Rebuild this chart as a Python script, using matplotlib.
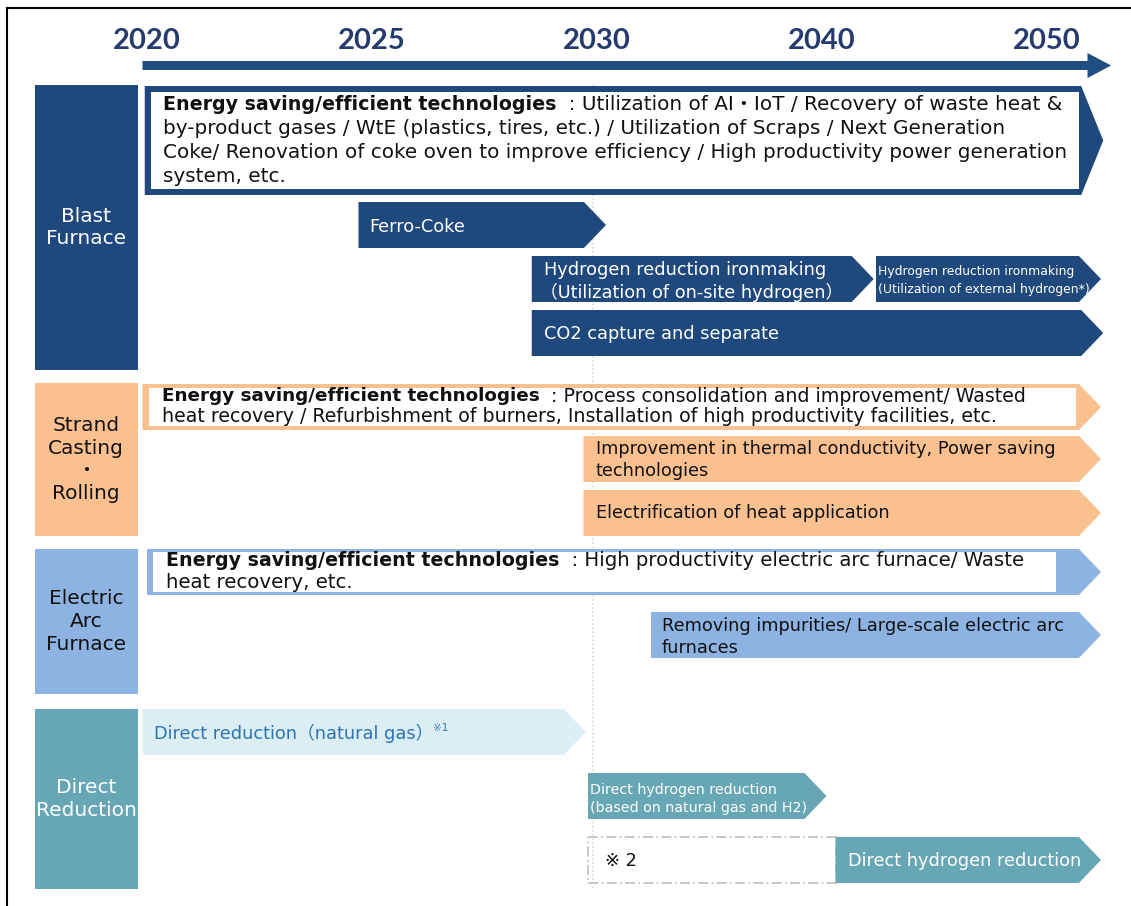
import matplotlib.pyplot as plt
from matplotlib.patches import Polygon, Rectangle
from matplotlib.lines import Line2D

plt.rcParams['font.family'] = ['DejaVu Sans', 'Noto Sans CJK JP']

# timeline: x axis runs in tick steps, 2020 = 0, 2025 = 1, 2030 = 2, ...
YEARS = ["2020", "2025", "2030", "2040", "2050"]

CATEGORIES = ["Blast\nFurnace", "Strand\nCasting\n・\nRolling",
              "Electric\nArc\nFurnace", "Direct\nReduction"]
CAT_COLORS = ["#1f497d", "#fac090", "#8db3e2", "#67a7b5"]
CAT_TEXT = ["white", "#111111", "#111111", "white"]

# each measure: category, start, end (arrow tip), label
item_cat = [0, 0, 0, 0, 0, 1, 1, 1, 2, 2, 3, 3, 3, 3]
item_start = [-0.01, 0.94, 1.71, 3.24, 1.71, -0.02, 1.94, 1.94,
              0.00, 2.24, -0.02, 1.96, 1.96, 3.06]
item_end = [4.25, 2.04, 3.23, 4.24, 4.25, 4.24, 4.24, 4.24,
            4.24, 4.24, 1.95, 3.02, 3.06, 4.24]
item_label = [
    "Energy saving/efficient technologies|  : Utilization of AI・IoT / Recovery of waste heat &\n"
    "by-product gases / WtE (plastics, tires, etc.) / Utilization of Scraps / Next Generation\n"
    "Coke/ Renovation of coke oven to improve efficiency / High productivity power generation\n"
    "system, etc.",
    "Ferro-Coke",
    "Hydrogen reduction ironmaking\n（Utilization of on-site hydrogen）",
    "Hydrogen reduction ironmaking\n(Utilization of external hydrogen*)",
    "CO2 capture and separate",
    "Energy saving/efficient technologies|  : Process consolidation and improvement/ Wasted\n"
    "heat recovery / Refurbishment of burners, Installation of high productivity facilities, etc.",
    "Improvement in thermal conductivity, Power saving\ntechnologies",
    "Electrification of heat application",
    "Energy saving/efficient technologies|  : High productivity electric arc furnace/ Waste\n"
    "heat recovery, etc.",
    "Removing impurities/ Large-scale electric arc\nfurnaces",
    "Direct reduction（natural gas）",
    "Direct hydrogen reduction\n(based on natural gas and H2)",
    "※ 2",
    "Direct hydrogen reduction",
]
# inner white panel end for the framed energy-saving measures
frame_end = {0: 4.14, 5: 4.13, 8: 4.04}

# ---- layout (pixels on the y axis) ----
CAT_SPAN = [(85, 370), (383, 536), (549, 694), (709, 889)]
item_top = [86, 202, 256, 256, 310, 384, 436, 490, 549, 612, 709, 773, 837, 837]
item_bot = [195, 248, 302, 302, 356, 430, 482, 536, 595, 658, 755, 819, 883, 883]
item_pad = [18, 11, 12, 2, 12, 19, 12, 12, 19, 11, 11, 2, 17, 12]
item_size = [12.8, 12.8, 12.8, 8.9, 12.8, 12.8, 12.8, 12.8, 12.8, 12.8, 12.8, 10.3, 12.8, 12.8]
item_step = [24.3, 0, 22, 17, 0, 20, 22, 0, 21, 22, 0, 18, 0, 0]
item_first = [104, 227, 270, 272, 334, 396, 449, 513, 561, 626, 733, 790, 861, 861]
frame_px = {0: (6, 6), 5: (6, 4), 8: (6, 3)}
frame_size = {0: (13.7, 14.4), 5: (13.2, 13.65), 8: (13.7, 14.2)}  # bold, regular

HEAD = 0.098
PX = 1 / 225.0  # one pixel in tick steps
CAT_LEFT, CAT_RIGHT = -0.50, -0.04


def arrow_shape(x0, x1, top, bot):
    mid = (top + bot) / 2
    return [(x0, top), (x1 - HEAD, top), (x1, mid), (x1 - HEAD, bot), (x0, bot)]


fig = plt.figure(figsize=(11.31, 9.06), dpi=100)
ax = fig.add_axes([0, 0, 1, 1])
ax.set_xlim(-147 * PX, (1131 - 147) * PX)
ax.set_ylim(906, 0)
ax.axis('off')

# frame lines top and left
fig.add_artist(Line2D([7 / 1131, 1], [1 - 8 / 906, 1 - 8 / 906], color='black', lw=1.5))
fig.add_artist(Line2D([7 / 1131, 7 / 1131], [0, 1 - 8 / 906], color='black', lw=1.5))

# years and the timeline arrow
for i, y in enumerate(YEARS):
    ax.text(i, 41, y, ha='center', va='center', fontsize=21, fontweight='bold',
            family='Lato', color='#263a6e')
ax.add_patch(Polygon([(-0.02, 61), (4.18, 61), (4.18, 53), (4.285, 65.5), (4.18, 78),
                      (4.18, 70), (-0.02, 70)], closed=True, color='#1f4e80', lw=0))

# dotted guide at 2030
ax.plot([1.98, 1.98], [85, 890], color='#d6d6bf', lw=1.1, ls=':', zorder=0)

# category boxes
for c, name in enumerate(CATEGORIES):
    t, b = CAT_SPAN[c]
    ax.add_patch(Rectangle((CAT_LEFT, t), CAT_RIGHT - CAT_LEFT, b - t,
                           color=CAT_COLORS[c], lw=0))
    ax.text((CAT_LEFT + CAT_RIGHT) / 2, (t + b) / 2, name, ha='center', va='center',
            fontsize=14.5, color=CAT_TEXT[c], linespacing=1.25)

# measures
for i, label in enumerate(item_label):
    c = item_cat[i]
    x0, x1 = item_start[i], item_end[i]
    t, b = item_top[i], item_bot[i]
    txt_color = CAT_TEXT[c]
    if c == 3 and i == 10:
        face = '#daeef3'
        txt_color = '#2e74b5'
    else:
        face = CAT_COLORS[c]

    if label.startswith("※"):
        ax.add_patch(Rectangle((x0, t), x1 - x0, b - t, fill=False, ec='#bdbdbd',
                               lw=1.2, ls=(0, (6, 2, 1, 2))))
        txt_color = '#111111'
    else:
        ax.add_patch(Polygon(arrow_shape(x0, x1, t, b), closed=True, color=face, lw=0))

    if i in frame_end:
        fx, fy = frame_px[i]
        bsize, rsize = frame_size[i]
        ax.add_patch(Rectangle((x0 + fx * PX, t + fy), frame_end[i] - x0 - fx * PX,
                               b - t - 2 * fy, color='white', lw=0))
        txt_color = '#111111'
        lines = label.split("\n")
        head, rest = lines[0].split("|")
        h = ax.annotate(head, xy=(x0, item_first[i]), xytext=(item_pad[i], 0),
                        textcoords='offset pixels', va='center', ha='left',
                        fontsize=bsize, fontweight='bold', color=txt_color)
        ax.annotate(rest, xy=(1, 0.5), xycoords=h, va='center', ha='left',
                    fontsize=rsize, color=txt_color)
        for k, ln in enumerate(lines[1:], start=1):
            ax.annotate(ln, xy=(x0, item_first[i] + k * item_step[i]),
                        xytext=(item_pad[i], 0), textcoords='offset pixels',
                        va='center', ha='left', fontsize=rsize, color=txt_color)
        continue

    lines = label.split("\n")
    for k, ln in enumerate(lines):
        pad = item_pad[i] - (4 if ln.startswith("（") else 0)
        tx = ax.annotate(ln, xy=(x0, item_first[i] + k * item_step[i]),
                         xytext=(pad, 0), textcoords='offset pixels',
                         va='center', ha='left', fontsize=item_size[i], color=txt_color)
    if i == 10:
        ax.annotate("※1", xy=(1, 0.75), xycoords=tx, xytext=(0, 0),
                    textcoords='offset pixels', va='center', ha='left',
                    fontsize=7.5, color=txt_color)

fig.savefig("out.png", dpi=100)
